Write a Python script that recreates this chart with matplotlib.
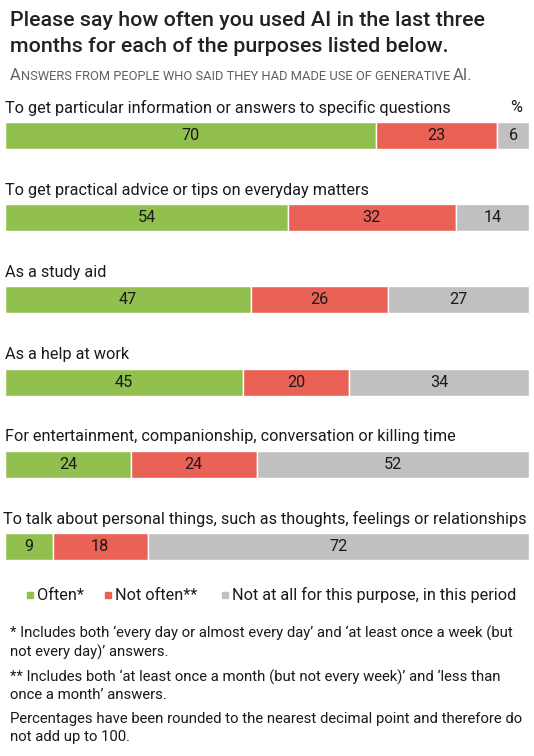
import matplotlib.pyplot as plt
from matplotlib.patches import Rectangle

plt.rcParams['font.family'] = ['Roboto', 'DejaVu Sans']

purposes = [
    'To get particular information or answers to specific questions',
    'To get practical advice or tips on everyday matters',
    'As a study aid',
    'As a help at work',
    'For entertainment, companionship, conversation or killing time',
    'To talk about personal things, such as thoughts, feelings or relationships',
]
often = [70, 54, 47, 45, 24, 9]
not_often = [23, 32, 26, 20, 24, 18]
not_at_all = [6, 14, 27, 34, 52, 72]

series_names = ['Often*', 'Not often**', 'Not at all for this purpose, in this period']
colors = ['#92c04f', '#e96255', '#c0c0c0']

W, H = 534, 756
fig = plt.figure(figsize=(W / 100, H / 100), dpi=100)

def fx(px):
    return px / W

def fy(py):
    return 1 - py / H

# bar area: center of row 0 at 135.5px, spacing 82.2px
sp = 82.2
top = 135.5 - sp / 2
bot = top + sp * 6
ax = fig.add_axes([fx(5), fy(bot), fx(529) - fx(5), (bot - top) / H])
ax.set_xlim(0, 1)
ax.set_ylim(5.5, -0.5)
ax.axis('off')

txt = '#1a1a1a'
for i in range(len(purposes)):
    vals = [often[i], not_often[i], not_at_all[i]]
    tot = sum(vals)
    left = 0
    for v, c in zip(vals, colors):
        w = v / tot
        ax.barh(i, w, left=left, height=0.33, color=c, edgecolor='white', linewidth=1)
        ax.text(left + w / 2, i, str(v), ha='center', va='center', fontsize=11.7, color=txt)
        left += w
    ax.text(0 if i < 5 else -0.004, i - 0.335, purposes[i], ha='left', va='center',
            fontsize=11.7, color=txt)
ax.text(0.975, -0.335, '%', ha='center', va='center', fontsize=11.7, color=txt)

# title
fig.text(fx(10), fy(20), 'Please say how often you used AI in the last three',
         fontsize=15.4, fontweight='medium', color='#222222', va='center')
fig.text(fx(10), fy(47), 'months for each of the purposes listed below.',
         fontsize=15.4, fontweight='medium', color='#222222', va='center')

# subtitle in small caps
sub_col = '#606060'
cur = fig.text(fx(10), fy(80), 'A', fontsize=12, color=sub_col, va='baseline')
cur = ax.annotate('NSWERS FROM PEOPLE WHO SAID THEY HAD MADE USE OF GENERATIVE ',
                  xy=(1, 0), xycoords=cur, fontsize=9.3, color=sub_col,
                  va='bottom', ha='left', annotation_clip=False)
cur = ax.annotate('AI.', xy=(1, 0), xycoords=cur, fontsize=12, color=sub_col,
                  va='bottom', ha='left', annotation_clip=False)

# legend
leg_x = [27, 105, 222]
for lx, name, c in zip(leg_x, series_names, colors):
    fig.patches.append(Rectangle((fx(lx), fy(598)), 6 / W, 6 / H, color=c,
                                 transform=fig.transFigure, figure=fig))
    fig.text(fx(lx + 10), fy(595), name, fontsize=11.7, color=txt, va='center')

notes = [
    (633, '* Includes both \u2018every day or almost every day\u2019 and \u2018at least once a week (but'),
    (652, 'not every day)\u2019 answers.'),
    (677, '** Includes both \u2018at least once a month (but not every week)\u2019 and \u2018less than'),
    (695, 'once a month\u2019 answers.'),
    (719, 'Percentages have been rounded to the nearest decimal point and therefore do'),
    (737, 'not add up to 100.'),
]
for y, s in notes:
    fig.text(fx(10), fy(y), s, fontsize=10.7, color=txt, va='center')

fig.savefig('out.png', dpi=100)
